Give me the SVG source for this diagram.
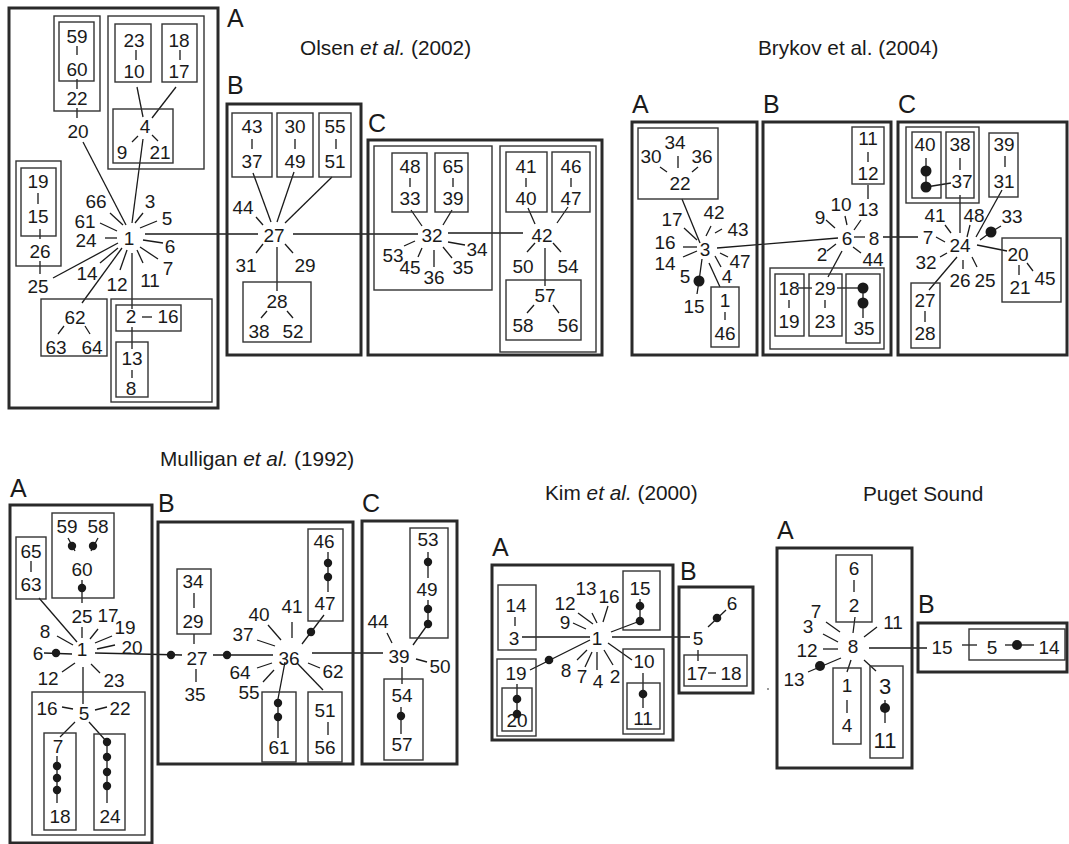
<svg xmlns="http://www.w3.org/2000/svg" width="1069" height="844" viewBox="0 0 1069 844">
<style>
text{font-family:"Liberation Sans",Arial,Helvetica,sans-serif;fill:#1a1a1a}
.n{font-size:19px;text-anchor:middle}
.big{font-size:22px;text-anchor:middle}
.t{font-size:20.8px}
.L{font-size:25px}
.bx{fill:none;stroke:#333;stroke-width:1.4}
.tk{fill:none;stroke:#2a2a2a;stroke-width:3}
.c line,.c polyline{stroke:#1a1a1a;stroke-width:1.3;fill:none}
.c circle{fill:#1a1a1a}
</style>
<rect width="1069" height="844" fill="#fff"/>

<!-- titles and panel labels -->
<g id="titles">
<text class="t" x="300" y="55">Olsen <tspan font-style="italic">et al.</tspan> (2002)</text>
<text class="t" x="758" y="55">Brykov et al. (2004)</text>
<text class="t" x="160" y="466">Mulligan <tspan font-style="italic">et al.</tspan> (1992)</text>
<text class="t" x="545" y="500">Kim <tspan font-style="italic">et al.</tspan> (2000)</text>
<text class="t" x="863" y="501">Puget Sound</text>
</g>
<g id="labels">
<text class="L" x="227" y="27">A</text>
<text class="L" x="227" y="94">B</text>
<text class="L" x="368" y="132">C</text>
<text class="L" x="632" y="113">A</text>
<text class="L" x="763" y="113">B</text>
<text class="L" x="898" y="113">C</text>
<text class="L" x="10" y="497">A</text>
<text class="L" x="158" y="512">B</text>
<text class="L" x="362" y="512">C</text>
<text class="L" x="492" y="556">A</text>
<text class="L" x="680" y="580">B</text>
<text class="L" x="777" y="539">A</text>
<text class="L" x="918" y="613">B</text>
</g>

<!-- connectors -->
<g id="connectors" class="c">
<!-- Olsen A -->
<line x1="77" y1="46" x2="77" y2="55"/><line x1="77" y1="79" x2="77" y2="89"/><line x1="77" y1="108" x2="77" y2="118"/>
<line x1="136" y1="50" x2="136" y2="60"/><line x1="180" y1="50" x2="180" y2="60"/>
<line x1="137" y1="87" x2="143" y2="117"/><line x1="176" y1="87" x2="152" y2="118"/>
<line x1="138" y1="136" x2="132" y2="142"/><line x1="152" y1="135" x2="158" y2="141"/>
<line x1="143" y1="139" x2="132" y2="223"/><line x1="83" y1="142" x2="126" y2="225"/>
<line x1="38" y1="193" x2="38" y2="204"/><line x1="40" y1="229" x2="40" y2="239"/><line x1="40" y1="261" x2="40" y2="274"/>
<line x1="110" y1="213" x2="123" y2="225"/><line x1="143" y1="213" x2="135" y2="223"/><line x1="157" y1="221" x2="140" y2="228"/>
<line x1="100" y1="223" x2="117" y2="231"/><line x1="105" y1="238" x2="117" y2="238"/><line x1="143" y1="240" x2="163" y2="243"/>
<line x1="140" y1="247" x2="158" y2="259"/><line x1="137" y1="250" x2="143" y2="263"/><line x1="127" y1="250" x2="120" y2="270"/>
<line x1="118" y1="248" x2="100" y2="263"/><line x1="118" y1="243" x2="53" y2="278"/><line x1="122" y1="248" x2="82" y2="303"/>
<line x1="132" y1="253" x2="132" y2="309"/><line x1="145" y1="234" x2="258" y2="234"/>
<line x1="64" y1="326" x2="58" y2="334"/><line x1="85" y1="326" x2="90" y2="334"/>
<line x1="142" y1="317" x2="152" y2="317"/><line x1="132" y1="327" x2="132" y2="349"/><line x1="132" y1="370" x2="132" y2="378"/>
<!-- Olsen B -->
<line x1="252" y1="139" x2="252" y2="149"/><line x1="295" y1="139" x2="295" y2="149"/><line x1="336" y1="139" x2="336" y2="149"/>
<line x1="253" y1="173" x2="271" y2="222"/><line x1="294" y1="172" x2="277" y2="222"/><line x1="332" y1="177" x2="285" y2="223"/>
<line x1="256" y1="217" x2="263" y2="225"/><line x1="263" y1="244" x2="256" y2="253"/><line x1="285" y1="244" x2="293" y2="253"/>
<line x1="277" y1="247" x2="277" y2="291"/><line x1="267" y1="311" x2="261" y2="318"/><line x1="287" y1="311" x2="293" y2="318"/>
<line x1="293" y1="234" x2="418" y2="234"/>
<!-- Olsen C -->
<line x1="410" y1="178" x2="410" y2="187"/><line x1="453" y1="178" x2="453" y2="187"/><line x1="526" y1="178" x2="526" y2="187"/><line x1="571" y1="178" x2="571" y2="187"/>
<line x1="411" y1="210" x2="422" y2="226"/><line x1="452" y1="210" x2="443" y2="225"/>
<line x1="404" y1="246" x2="415" y2="241"/><line x1="418" y1="257" x2="422" y2="248"/><line x1="434" y1="250" x2="434" y2="267"/>
<line x1="443" y1="247" x2="452" y2="258"/><line x1="448" y1="242" x2="465" y2="245"/>
<line x1="448" y1="233" x2="523" y2="233"/>
<line x1="528" y1="208" x2="535" y2="224"/><line x1="568" y1="207" x2="557" y2="223"/>
<line x1="535" y1="243" x2="527" y2="252"/><line x1="553" y1="243" x2="561" y2="252"/>
<line x1="545" y1="248" x2="545" y2="286"/><line x1="534" y1="305" x2="527" y2="313"/><line x1="553" y1="305" x2="559" y2="313"/>
<!-- Brykov A -->
<line x1="678" y1="156" x2="678" y2="168"/><line x1="660" y1="167" x2="667" y2="172"/><line x1="698" y1="167" x2="692" y2="172"/>
<line x1="682" y1="199" x2="700" y2="243"/>
<line x1="684" y1="228" x2="697" y2="240"/><line x1="711" y1="226" x2="706" y2="236"/><line x1="722" y1="229" x2="715" y2="233"/>
<line x1="683" y1="247" x2="697" y2="247"/><line x1="683" y1="257" x2="697" y2="251"/><line x1="720" y1="253" x2="728" y2="257"/>
<line x1="715" y1="256" x2="721" y2="267"/>
<polyline points="702,259 699,281 697,294"/><circle cx="699" cy="281" r="5.5"/>
<line x1="709" y1="263" x2="720" y2="287"/><line x1="725" y1="312" x2="725" y2="320"/>
<line x1="717" y1="248" x2="838" y2="238"/>
<!-- Brykov B -->
<line x1="868" y1="152" x2="868" y2="162"/><line x1="868" y1="185" x2="868" y2="199"/>
<line x1="861" y1="220" x2="854" y2="230"/><line x1="845" y1="216" x2="847" y2="225"/><line x1="826" y1="220" x2="835" y2="228"/>
<line x1="854" y1="237" x2="865" y2="237"/><line x1="883" y1="237" x2="918" y2="237"/>
<line x1="853" y1="247" x2="861" y2="253"/><line x1="827" y1="251" x2="836" y2="244"/>
<line x1="842" y1="251" x2="828" y2="277"/>
<line x1="789" y1="300" x2="789" y2="308"/><line x1="825" y1="300" x2="825" y2="308"/>
<line x1="798" y1="288" x2="812" y2="288"/><line x1="837" y1="288" x2="863" y2="288"/>
<line x1="863" y1="288" x2="863" y2="318"/><circle cx="863" cy="288" r="5.5"/><circle cx="863" cy="303" r="5.5"/>
<!-- Brykov C -->
<line x1="926" y1="158" x2="926" y2="187"/><circle cx="926" cy="171" r="5.5"/><circle cx="926" cy="187" r="5.5"/>
<line x1="926" y1="187" x2="951" y2="183"/>
<line x1="960" y1="158" x2="960" y2="170"/><line x1="1005" y1="156" x2="1005" y2="167"/>
<line x1="960" y1="195" x2="960" y2="233"/><line x1="1002" y1="190" x2="976" y2="237"/>
<line x1="945" y1="225" x2="951" y2="233"/><line x1="970" y1="225" x2="967" y2="237"/>
<polyline points="980,240 991,232 1001,226"/><circle cx="991" cy="232" r="5.5"/>
<line x1="936" y1="237" x2="945" y2="242"/><line x1="940" y1="257" x2="947" y2="253"/>
<line x1="963" y1="260" x2="963" y2="269"/><line x1="972" y1="257" x2="977" y2="267"/>
<line x1="957" y1="257" x2="929" y2="290"/><line x1="925" y1="311" x2="925" y2="322"/>
<line x1="977" y1="245" x2="1007" y2="251"/><line x1="1019" y1="265" x2="1019" y2="275"/><line x1="1027" y1="263" x2="1033" y2="271"/>
<!-- Mulligan A -->
<line x1="31" y1="561" x2="31" y2="572"/><line x1="39" y1="598" x2="77" y2="642"/>
<line x1="68" y1="538" x2="75" y2="551"/><circle cx="72" cy="546" r="4.2"/>
<line x1="98" y1="538" x2="91" y2="551"/><circle cx="93" cy="546" r="4.2"/>
<line x1="82" y1="580" x2="82" y2="603"/><circle cx="82" cy="588" r="4.2"/>
<line x1="82" y1="627" x2="82" y2="638"/><line x1="98" y1="629" x2="90" y2="639"/><line x1="112" y1="636" x2="95" y2="643"/>
<line x1="115" y1="645" x2="97" y2="649"/><line x1="57" y1="636" x2="73" y2="645"/>
<line x1="44" y1="653" x2="72" y2="654"/><circle cx="56" cy="653" r="4.2"/>
<line x1="95" y1="653" x2="182" y2="655"/><circle cx="171" cy="655" r="4.2"/>
<line x1="62" y1="672" x2="75" y2="663"/><line x1="91" y1="664" x2="100" y2="673"/>
<line x1="83" y1="667" x2="83" y2="704"/>
<line x1="62" y1="707" x2="73" y2="709"/><line x1="95" y1="710" x2="107" y2="707"/>
<line x1="75" y1="722" x2="60" y2="737"/><line x1="89" y1="722" x2="107" y2="742"/>
<line x1="57" y1="756" x2="57" y2="803"/><circle cx="57" cy="766" r="4.2"/><circle cx="57" cy="778" r="4.2"/><circle cx="57" cy="790" r="4.2"/>
<line x1="107" y1="740" x2="107" y2="803"/><circle cx="107" cy="742" r="4.2"/><circle cx="107" cy="757" r="4.2"/><circle cx="107" cy="772" r="4.2"/><circle cx="107" cy="786" r="4.2"/>
<!-- Mulligan B -->
<line x1="194" y1="593" x2="194" y2="608"/><line x1="194" y1="634" x2="194" y2="644"/>
<line x1="213" y1="655" x2="273" y2="655"/><circle cx="227" cy="655" r="4.2"/>
<line x1="196" y1="669" x2="196" y2="682"/>
<line x1="268" y1="625" x2="281" y2="640"/><line x1="292" y1="622" x2="292" y2="638"/><line x1="257" y1="640" x2="275" y2="646"/>
<line x1="257" y1="668" x2="272" y2="663"/><line x1="263" y1="682" x2="274" y2="670"/><line x1="308" y1="663" x2="320" y2="668"/>
<line x1="328" y1="552" x2="328" y2="592"/><circle cx="328" cy="563" r="4.2"/><circle cx="328" cy="577" r="4.2"/>
<line x1="302" y1="644" x2="324" y2="615"/><circle cx="311" cy="632" r="4.2"/>
<polyline points="285,662 278,699 278,738"/><circle cx="278" cy="703" r="4.2"/><circle cx="278" cy="717" r="4.2"/>
<line x1="297" y1="663" x2="323" y2="690"/><line x1="328" y1="722" x2="328" y2="735"/>
<line x1="312" y1="653" x2="383" y2="653"/>
<!-- Mulligan C -->
<line x1="428" y1="552" x2="428" y2="578"/><circle cx="428" cy="562" r="4.2"/>
<line x1="428" y1="600" x2="428" y2="625"/><circle cx="428" cy="609" r="4.2"/><circle cx="428" cy="624" r="4.2"/>
<line x1="413" y1="645" x2="428" y2="624"/>
<line x1="387" y1="633" x2="392" y2="643"/><line x1="416" y1="659" x2="427" y2="662"/>
<line x1="402" y1="667" x2="402" y2="684"/>
<line x1="401" y1="707" x2="401" y2="734"/><circle cx="401" cy="716" r="4.2"/>
<!-- Kim -->
<line x1="515" y1="617" x2="515" y2="626"/><line x1="522" y1="637" x2="590" y2="637"/>
<line x1="578" y1="613" x2="593" y2="624"/><line x1="592" y1="613" x2="597" y2="623"/><line x1="608" y1="606" x2="603" y2="622"/>
<line x1="573" y1="623" x2="586" y2="629"/>
<line x1="640" y1="599" x2="640" y2="621"/><circle cx="640" cy="606" r="4.3"/><circle cx="640" cy="621" r="4.3"/>
<line x1="611" y1="632" x2="640" y2="621"/>
<line x1="612" y1="637" x2="690" y2="637"/>
<line x1="577" y1="660" x2="587" y2="650"/><line x1="585" y1="667" x2="592" y2="652"/><line x1="597" y1="652" x2="597" y2="670"/>
<line x1="604" y1="650" x2="613" y2="665"/><line x1="608" y1="643" x2="632" y2="660"/>
<line x1="590" y1="640" x2="530" y2="670"/><circle cx="549" cy="660" r="4.3"/>
<line x1="517" y1="684" x2="517" y2="713"/><circle cx="517" cy="699" r="4.3"/><circle cx="517" cy="714" r="4.3"/>
<line x1="643" y1="673" x2="643" y2="708"/><circle cx="643" cy="694" r="4.3"/>
<line x1="708" y1="627" x2="726" y2="610"/><circle cx="717" cy="618" r="4.3"/>
<line x1="698" y1="650" x2="698" y2="661"/><line x1="708" y1="673" x2="716" y2="673"/>
<!-- Puget -->
<line x1="854" y1="580" x2="854" y2="592"/><line x1="855" y1="617" x2="853" y2="633"/>
<line x1="826" y1="622" x2="840" y2="632"/><line x1="823" y1="634" x2="838" y2="642"/><line x1="823" y1="649" x2="838" y2="649"/>
<line x1="877" y1="627" x2="864" y2="637"/>
<line x1="808" y1="672" x2="841" y2="658"/><circle cx="820" cy="666" r="5"/>
<line x1="869" y1="648" x2="927" y2="648"/>
<line x1="851" y1="660" x2="847" y2="672"/><line x1="847" y1="700" x2="847" y2="713"/>
<line x1="864" y1="660" x2="876" y2="671"/>
<line x1="885" y1="700" x2="885" y2="723"/><circle cx="885" cy="708" r="5"/>
<line x1="962" y1="645" x2="977" y2="645"/>
<line x1="1005" y1="645" x2="1034" y2="645"/><circle cx="1017" cy="645" r="5"/>
<circle cx="768" cy="689" r="0.8"/>
</g>

<!-- Olsen et al. (2002) -->
<g id="olsen">
<g id="olsenA">
<rect class="tk" x="9" y="8" width="209" height="400"/>
<g id="oA-22"><rect class="bx" x="54" y="16" width="46" height="95"/><rect class="bx" x="59" y="22" width="35" height="59"/>
<text class="n" x="77" y="43">59</text><text class="n" x="77" y="76">60</text><text class="n" x="77" y="105">22</text></g>
<g id="oA-20"><text class="n" x="78" y="138">20</text></g>
<g id="oA-4"><rect class="bx" x="108" y="16" width="96" height="153"/><rect class="bx" x="115" y="24" width="36" height="58"/><rect class="bx" x="162" y="24" width="35" height="58"/><rect class="bx" x="113" y="109" width="60" height="54"/>
<text class="n" x="134" y="47">23</text><text class="n" x="134" y="78">10</text><text class="n" x="179" y="47">18</text><text class="n" x="179" y="78">17</text>
<text class="n" x="145" y="133">4</text><text class="n" x="122" y="159">9</text><text class="n" x="160" y="159">21</text></g>
<g id="oA-26"><rect class="bx" x="16" y="161" width="45" height="105"/><rect class="bx" x="21" y="168" width="35" height="68"/>
<text class="n" x="38" y="188">19</text><text class="n" x="38" y="223">15</text><text class="n" x="40" y="258">26</text></g>
<g id="oA-1"><text class="n" x="129" y="245">1</text>
<text class="n" x="96" y="208">66</text><text class="n" x="150" y="208">3</text><text class="n" x="167" y="225">5</text>
<text class="n" x="85" y="228">61</text><text class="n" x="86" y="247">24</text><text class="n" x="170" y="253">6</text>
<text class="n" x="168" y="275">7</text><text class="n" x="87" y="280">14</text><text class="n" x="117" y="291">12</text>
<text class="n" x="150" y="287">11</text><text class="n" x="38" y="293">25</text></g>
<g id="oA-62"><rect class="bx" x="41" y="299" width="66" height="57"/>
<text class="n" x="75" y="324">62</text><text class="n" x="56" y="354">63</text><text class="n" x="92" y="354">64</text></g>
<g id="oA-2"><rect class="bx" x="111" y="299" width="101" height="103"/><rect class="bx" x="116" y="305" width="65" height="26"/><rect class="bx" x="116" y="342" width="32" height="55"/>
<text class="n" x="131" y="323">2</text><text class="n" x="168" y="323">16</text><text class="n" x="132" y="365">13</text><text class="n" x="131" y="395">8</text></g>
</g>
<g id="olsenB">
<rect class="tk" x="227" y="104" width="134" height="251"/>
<g id="oB-37"><rect class="bx" x="232" y="113" width="40" height="64"/><text class="n" x="252" y="133">43</text><text class="n" x="252" y="168">37</text></g>
<g id="oB-49"><rect class="bx" x="277" y="113" width="36" height="64"/><text class="n" x="295" y="133">30</text><text class="n" x="295" y="168">49</text></g>
<g id="oB-51"><rect class="bx" x="319" y="113" width="32" height="64"/><text class="n" x="335" y="133">55</text><text class="n" x="335" y="168">51</text></g>
<g id="oB-27"><text class="n" x="274" y="242">27</text><text class="n" x="243" y="214">44</text><text class="n" x="246" y="272">31</text><text class="n" x="305" y="272">29</text></g>
<g id="oB-28"><rect class="bx" x="243" y="282" width="68" height="60"/><text class="n" x="277" y="308">28</text><text class="n" x="259" y="338">38</text><text class="n" x="293" y="338">52</text></g>
</g>
<g id="olsenC">
<rect class="tk" x="368" y="140" width="234" height="215"/>
<g id="oC-32"><rect class="bx" x="374" y="146" width="118" height="144"/>
<rect class="bx" x="392" y="153" width="35" height="59"/><rect class="bx" x="435" y="153" width="33" height="59"/>
<text class="n" x="410" y="173">48</text><text class="n" x="410" y="205">33</text><text class="n" x="453" y="173">65</text><text class="n" x="453" y="205">39</text>
<text class="n" x="432" y="242">32</text><text class="n" x="393" y="262">53</text><text class="n" x="410" y="274">45</text>
<text class="n" x="434" y="284">36</text><text class="n" x="463" y="274">35</text><text class="n" x="477" y="256">34</text></g>
<g id="oC-42"><rect class="bx" x="500" y="146" width="96" height="206"/>
<rect class="bx" x="506" y="152" width="41" height="60"/><rect class="bx" x="552" y="152" width="38" height="60"/>
<text class="n" x="526" y="173">41</text><text class="n" x="526" y="205">40</text><text class="n" x="571" y="173">46</text><text class="n" x="571" y="205">47</text>
<text class="n" x="542" y="242">42</text><text class="n" x="523" y="273">50</text><text class="n" x="568" y="273">54</text></g>
<g id="oC-57"><rect class="bx" x="506" y="280" width="75" height="60"/>
<text class="n" x="545" y="302">57</text><text class="n" x="523" y="332">58</text><text class="n" x="568" y="332">56</text></g>
</g>
</g>

<!-- Brykov et al. (2004) -->
<g id="brykov">
<g id="brykovA">
<rect class="tk" x="632" y="122" width="125" height="233"/>
<g id="bA-22"><rect class="bx" x="638" y="128" width="80" height="71"/>
<text class="n" x="675" y="149">34</text><text class="n" x="651" y="163">30</text><text class="n" x="702" y="163">36</text><text class="n" x="680" y="190">22</text></g>
<g id="bA-3"><text class="n" x="705" y="256">3</text>
<text class="n" x="672" y="226">17</text><text class="n" x="714" y="219">42</text><text class="n" x="738" y="236">43</text>
<text class="n" x="665" y="249">16</text><text class="n" x="665" y="270">14</text><text class="n" x="740" y="268">47</text>
<text class="n" x="727" y="283">4</text><text class="n" x="685" y="283">5</text><text class="n" x="694" y="313">15</text></g>
<g id="bA-1"><rect class="bx" x="711" y="287" width="28" height="60"/><text class="n" x="725" y="307">1</text><text class="n" x="725" y="340">46</text></g>
</g>
<g id="brykovB">
<rect class="tk" x="763" y="122" width="128" height="233"/>
<g id="bB-12"><rect class="bx" x="852" y="127" width="32" height="57"/><text class="n" x="868" y="145">11</text><text class="n" x="868" y="180">12</text></g>
<g id="bB-6"><text class="n" x="847" y="245">6</text><text class="n" x="868" y="216">13</text><text class="n" x="841" y="211">10</text>
<text class="n" x="820" y="224">9</text><text class="n" x="874" y="245">8</text><text class="n" x="873" y="266">44</text><text class="n" x="822" y="261">2</text></g>
<g id="bB-29"><rect class="bx" x="770" y="268" width="114" height="81"/>
<rect class="bx" x="775" y="274" width="29" height="62"/><rect class="bx" x="809" y="274" width="33" height="62"/><rect class="bx" x="846" y="274" width="34" height="69"/>
<text class="n" x="789" y="295">18</text><text class="n" x="789" y="328">19</text><text class="n" x="825" y="295">29</text><text class="n" x="825" y="328">23</text><text class="n" x="864" y="335">35</text></g>
</g>
<g id="brykovC">
<rect class="tk" x="898" y="122" width="169" height="233"/>
<g id="bC-37"><rect class="bx" x="906" y="127" width="73" height="76"/><rect class="bx" x="912" y="132" width="29" height="66"/><rect class="bx" x="946" y="132" width="28" height="66"/>
<text class="n" x="925" y="151">40</text><text class="n" x="960" y="151">38</text><text class="n" x="962" y="188">37</text></g>
<g id="bC-31"><rect class="bx" x="989" y="133" width="29" height="64"/><text class="n" x="1004" y="151">39</text><text class="n" x="1004" y="188">31</text></g>
<g id="bC-24"><text class="n" x="960" y="252">24</text><text class="n" x="935" y="222">41</text><text class="n" x="974" y="222">48</text>
<text class="n" x="1012" y="223">33</text><text class="n" x="928" y="244">7</text><text class="n" x="926" y="269">32</text>
<text class="n" x="960" y="287">26</text><text class="n" x="985" y="287">25</text></g>
<g id="bC-27"><rect class="bx" x="911" y="283" width="29" height="65"/><text class="n" x="925" y="307">27</text><text class="n" x="925" y="340">28</text></g>
<g id="bC-20"><rect class="bx" x="1002" y="238" width="59" height="64"/><text class="n" x="1018" y="261">20</text><text class="n" x="1020" y="294">21</text><text class="n" x="1045" y="285">45</text></g>
</g>
</g>

<!-- Mulligan et al. (1992) -->
<g id="mulligan">
<g id="mulliganA">
<rect class="tk" x="10" y="505" width="142" height="338"/>
<g id="mA-63"><rect class="bx" x="16" y="537" width="30" height="62"/><text class="n" x="31" y="558">65</text><text class="n" x="31" y="591">63</text></g>
<g id="mA-60"><rect class="bx" x="52" y="513" width="62" height="85"/><text class="n" x="67" y="533">59</text><text class="n" x="98" y="533">58</text><text class="n" x="82" y="576">60</text></g>
<g id="mA-1"><text class="n" x="82" y="656">1</text><text class="n" x="82" y="623">25</text><text class="n" x="108" y="622">17</text>
<text class="n" x="125" y="634">19</text><text class="n" x="132" y="654">20</text><text class="n" x="45" y="638">8</text>
<text class="n" x="38" y="660">6</text><text class="n" x="48" y="685">12</text><text class="n" x="114" y="687">23</text></g>
<g id="mA-5"><rect class="bx" x="32" y="692" width="113" height="143"/>
<text class="n" x="84" y="720">5</text><text class="n" x="47" y="715">16</text><text class="n" x="120" y="715">22</text>
<rect class="bx" x="44" y="733" width="32" height="97"/><rect class="bx" x="94" y="734" width="31" height="96"/>
<text class="n" x="58" y="753">7</text><text class="n" x="60" y="823">18</text><text class="n" x="110" y="823">24</text></g>
</g>
<g id="mulliganB">
<rect class="tk" x="158" y="522" width="195" height="242"/>
<g id="mB-29"><rect class="bx" x="177" y="569" width="34" height="65"/><text class="n" x="193" y="588">34</text><text class="n" x="193" y="628">29</text></g>
<g id="mB-27"><text class="n" x="197" y="665">27</text><text class="n" x="195" y="701">35</text></g>
<g id="mB-36"><text class="n" x="289" y="665">36</text><text class="n" x="259" y="621">40</text><text class="n" x="292" y="613">41</text>
<text class="n" x="243" y="641">37</text><text class="n" x="240" y="679">64</text><text class="n" x="249" y="699">55</text><text class="n" x="333" y="678">62</text></g>
<g id="mB-47"><rect class="bx" x="308" y="529" width="35" height="92"/><text class="n" x="324" y="548">46</text><text class="n" x="325" y="610">47</text></g>
<g id="mB-61"><rect class="bx" x="262" y="692" width="34" height="70"/><text class="n" x="279" y="754">61</text></g>
<g id="mB-51"><rect class="bx" x="308" y="692" width="34" height="70"/><text class="n" x="325" y="717">51</text><text class="n" x="325" y="754">56</text></g>
</g>
<g id="mulliganC">
<rect class="tk" x="362" y="521" width="95" height="243"/>
<g id="mC-49"><rect class="bx" x="410" y="528" width="38" height="110"/><text class="n" x="428" y="546">53</text><text class="n" x="427" y="596">49</text></g>
<g id="mC-39"><text class="n" x="399" y="663">39</text><text class="n" x="378" y="628">44</text><text class="n" x="440" y="673">50</text></g>
<g id="mC-54"><rect class="bx" x="384" y="679" width="39" height="81"/><text class="n" x="402" y="702">54</text><text class="n" x="402" y="751">57</text></g>
</g>
</g>

<!-- Kim et al. (2000) -->
<g id="kim">
<g id="kimA">
<rect class="tk" x="492" y="565" width="181" height="175"/>
<g id="kA-3"><rect class="bx" x="498" y="585" width="38" height="65"/><text class="n" x="516" y="612">14</text><text class="n" x="514" y="645">3</text></g>
<g id="kA-1"><text class="n" x="597" y="645">1</text><text class="n" x="565" y="610">12</text><text class="n" x="586" y="595">13</text>
<text class="n" x="609" y="603">16</text><text class="n" x="565" y="629">9</text><text class="n" x="566" y="677">8</text>
<text class="n" x="582" y="683">7</text><text class="n" x="598" y="688">4</text><text class="n" x="615" y="683">2</text></g>
<g id="kA-15"><rect class="bx" x="623" y="571" width="37" height="59"/><text class="n" x="640" y="595">15</text></g>
<g id="kA-19"><rect class="bx" x="497" y="659" width="39" height="77"/><rect class="bx" x="502" y="688" width="30" height="43"/>
<text class="n" x="516" y="680">19</text><text class="n" x="517" y="727">20</text></g>
<g id="kA-10"><rect class="bx" x="623" y="649" width="41" height="85"/><rect class="bx" x="627" y="683" width="33" height="46"/>
<text class="n" x="644" y="668">10</text><text class="n" x="643" y="725">11</text></g>
</g>
<g id="kimB">
<rect class="tk" x="679" y="587" width="74" height="106"/>
<g id="kB-5"><text class="n" x="698" y="645">5</text><text class="n" x="732" y="610">6</text></g>
<g id="kB-17"><rect class="bx" x="684" y="655" width="63" height="31"/><text class="n" x="697" y="680">17</text><text class="n" x="731" y="680">18</text></g>
</g>
</g>

<!-- Puget Sound -->
<g id="puget">
<g id="pugetA">
<rect class="tk" x="777" y="548" width="135" height="220"/>
<g id="pA-2"><rect class="bx" x="836" y="555" width="36" height="67"/><text class="n" x="854" y="575">6</text><text class="n" x="854" y="612">2</text></g>
<g id="pA-8"><text class="n" x="853" y="653">8</text><text class="n" x="816" y="618">7</text><text class="n" x="808" y="633">3</text>
<text class="n" x="807" y="657">12</text><text class="n" x="893" y="629">11</text><text class="n" x="794" y="686">13</text></g>
<g id="pA-1"><rect class="bx" x="833" y="668" width="28" height="76"/><text class="n" x="847" y="692">1</text><text class="n" x="847" y="732">4</text></g>
<g id="pA-3"><rect class="bx" x="870" y="666" width="33" height="92"/><text class="big" x="885" y="694">3</text><text class="big" x="885" y="748">11</text></g>
</g>
<g id="pugetB">
<rect class="tk" x="918" y="623" width="149" height="49"/>
<g id="pB-15"><text class="n" x="942" y="654">15</text></g>
<g id="pB-5"><rect class="bx" x="969" y="629" width="96" height="31"/><text class="n" x="992" y="654">5</text><text class="n" x="1049" y="654">14</text></g>
</g>
</g>
</svg>
